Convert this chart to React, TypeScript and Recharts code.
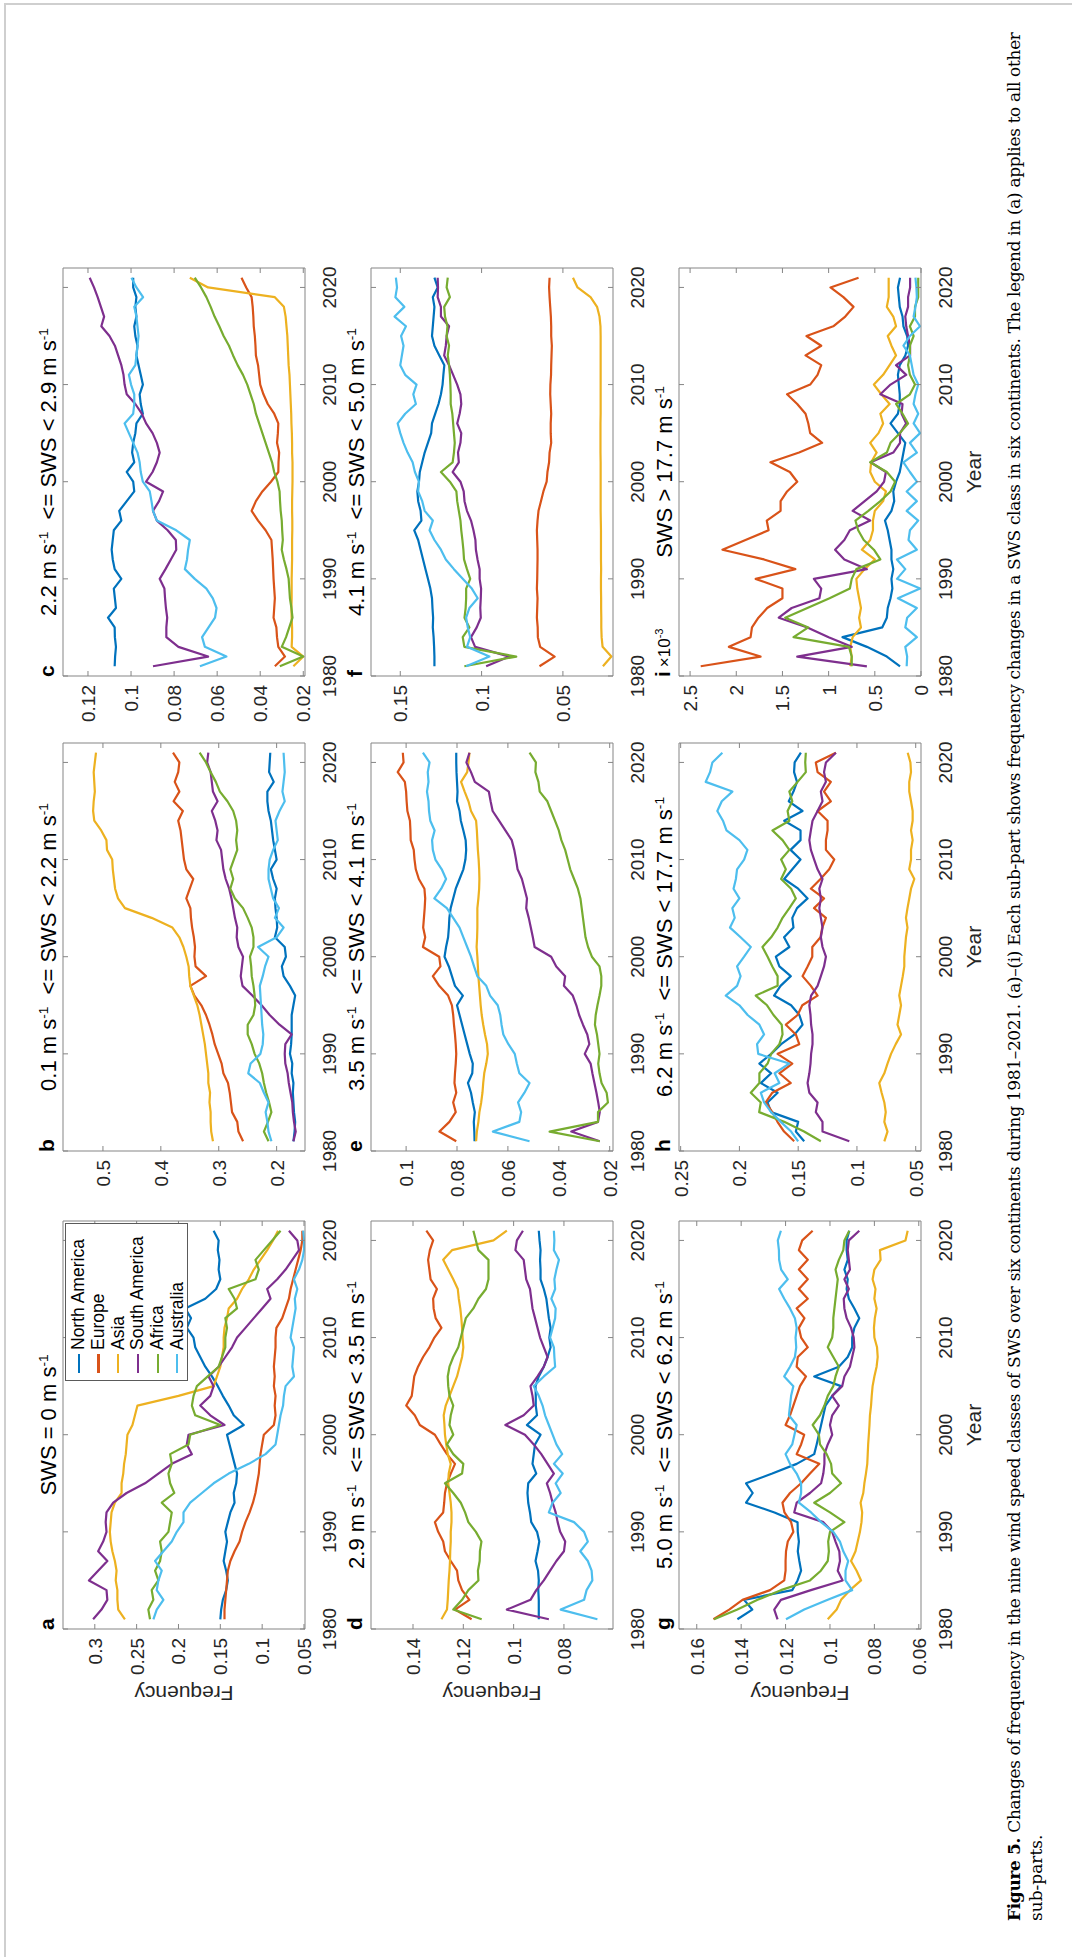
import React from "react";
import { Line, LineChart, XAxis, YAxis } from "recharts";

// Years on the x axis (one value per year, 1981–2021)
const YEARS = [
  1981, 1982, 1983, 1984, 1985, 1986, 1987, 1988, 1989, 1990,
  1991, 1992, 1993, 1994, 1995, 1996, 1997, 1998, 1999, 2000,
  2001, 2002, 2003, 2004, 2005, 2006, 2007, 2008, 2009, 2010,
  2011, 2012, 2013, 2014, 2015, 2016, 2017, 2018, 2019, 2020, 2021,
];
const YEAR_TICKS = [1980, 1990, 2000, 2010, 2020];
const YEAR_DOMAIN: [number, number] = [1980, 2022];

const CONTINENTS = ["North America", "Europe", "Asia", "South America", "Africa", "Australia"];
const KEYS = ["na", "eu", "as", "sa", "af", "au"];
const COLORS = ["#0072BD", "#D95319", "#EDB120", "#7E2F8E", "#77AC30", "#4DBEEE"];

// (a) SWS = 0
const A_NA = [0.150,0.149,0.147,0.143,0.141,0.143,0.146,0.144,0.142,0.144,0.141,0.138,0.133,0.134,0.131,0.130,0.133,0.136,0.139,0.142,0.122,0.134,0.140,0.147,0.153,0.160,0.168,0.174,0.180,0.182,0.190,0.185,0.192,0.168,0.155,0.150,0.152,0.151,0.153,0.152,0.158];
const A_EU = [0.145,0.145,0.144,0.143,0.142,0.141,0.138,0.133,0.127,0.124,0.120,0.115,0.111,0.108,0.106,0.104,0.103,0.102,0.100,0.098,0.086,0.084,0.085,0.084,0.086,0.085,0.086,0.085,0.084,0.084,0.083,0.076,0.072,0.068,0.066,0.063,0.060,0.057,0.054,0.052,0.052];
const A_AS = [0.264,0.272,0.273,0.273,0.275,0.274,0.276,0.279,0.281,0.282,0.281,0.280,0.276,0.268,0.268,0.266,0.265,0.263,0.262,0.261,0.255,0.252,0.249,0.200,0.158,0.154,0.150,0.148,0.146,0.146,0.145,0.142,0.140,0.130,0.124,0.116,0.110,0.102,0.094,0.087,0.081];
const A_SA = [0.302,0.292,0.285,0.286,0.307,0.296,0.285,0.296,0.290,0.286,0.287,0.286,0.278,0.262,0.240,0.224,0.208,0.184,0.190,0.188,0.145,0.162,0.174,0.162,0.158,0.164,0.152,0.144,0.136,0.130,0.120,0.110,0.100,0.090,0.094,0.082,0.072,0.064,0.056,0.058,0.068];
const A_AF = [0.234,0.236,0.230,0.232,0.224,0.228,0.222,0.220,0.222,0.212,0.210,0.208,0.220,0.205,0.210,0.212,0.208,0.210,0.188,0.186,0.150,0.180,0.184,0.182,0.178,0.165,0.152,0.148,0.144,0.144,0.142,0.144,0.130,0.133,0.140,0.108,0.104,0.108,0.098,0.088,0.078];
const A_AU = [0.230,0.226,0.218,0.226,0.224,0.220,0.228,0.218,0.208,0.202,0.194,0.194,0.186,0.172,0.158,0.140,0.116,0.096,0.084,0.082,0.080,0.078,0.075,0.074,0.072,0.062,0.064,0.063,0.062,0.066,0.064,0.062,0.060,0.061,0.058,0.062,0.056,0.052,0.050,0.050,0.051];

// (b) 0.1 <= SWS < 2.2
const B_NA = [0.171,0.169,0.168,0.170,0.171,0.172,0.171,0.174,0.173,0.177,0.175,0.174,0.174,0.174,0.171,0.168,0.177,0.188,0.191,0.184,0.186,0.203,0.199,0.200,0.202,0.203,0.200,0.206,0.210,0.200,0.203,0.206,0.208,0.210,0.214,0.216,0.216,0.205,0.213,0.212,0.211];
const B_EU = [0.258,0.266,0.268,0.277,0.279,0.281,0.284,0.292,0.295,0.301,0.307,0.311,0.316,0.322,0.330,0.342,0.349,0.322,0.340,0.342,0.341,0.343,0.346,0.348,0.349,0.356,0.350,0.344,0.356,0.360,0.362,0.364,0.366,0.370,0.362,0.378,0.368,0.376,0.370,0.368,0.379];
const B_AS = [0.310,0.313,0.314,0.314,0.316,0.315,0.318,0.318,0.320,0.322,0.324,0.327,0.330,0.333,0.337,0.343,0.349,0.351,0.352,0.356,0.361,0.368,0.380,0.416,0.462,0.474,0.479,0.481,0.483,0.484,0.493,0.494,0.503,0.515,0.517,0.516,0.514,0.515,0.516,0.514,0.512];
const B_SA = [0.171,0.167,0.170,0.172,0.173,0.176,0.179,0.181,0.185,0.186,0.185,0.174,0.195,0.212,0.226,0.242,0.259,0.262,0.260,0.258,0.266,0.269,0.268,0.272,0.275,0.278,0.282,0.288,0.292,0.294,0.296,0.304,0.302,0.306,0.312,0.302,0.310,0.312,0.314,0.320,0.318];
const B_AF = [0.214,0.222,0.215,0.209,0.213,0.218,0.222,0.225,0.230,0.238,0.243,0.250,0.250,0.240,0.237,0.238,0.240,0.243,0.244,0.246,0.240,0.240,0.243,0.250,0.258,0.272,0.280,0.275,0.280,0.274,0.268,0.270,0.268,0.270,0.275,0.285,0.298,0.305,0.314,0.322,0.333];
const B_AU = [0.209,0.214,0.216,0.219,0.214,0.222,0.229,0.249,0.245,0.228,0.224,0.223,0.225,0.226,0.227,0.228,0.229,0.224,0.220,0.214,0.232,0.200,0.188,0.203,0.196,0.206,0.210,0.214,0.214,0.212,0.206,0.198,0.200,0.202,0.195,0.186,0.190,0.188,0.186,0.187,0.188];

// (c) 2.2 <= SWS < 2.9
const C_NA = [0.1076,0.1074,0.1070,0.1075,0.1076,0.1107,0.1070,0.1075,0.1080,0.1045,0.1076,0.1085,0.1090,0.1085,0.1080,0.1045,0.1055,0.1020,0.0985,0.0990,0.1020,0.0985,0.0995,0.0990,0.0980,0.0975,0.0945,0.0955,0.0960,0.0945,0.0955,0.0965,0.0975,0.0970,0.0980,0.0985,0.0975,0.0980,0.0975,0.0990,0.0990];
const C_EU = [0.0332,0.0285,0.0316,0.0322,0.0325,0.0338,0.0335,0.0332,0.0335,0.0338,0.0340,0.0342,0.0345,0.0348,0.0375,0.0410,0.0440,0.0420,0.0390,0.0350,0.0316,0.0315,0.0312,0.0322,0.0318,0.0316,0.0335,0.0365,0.0385,0.0400,0.0405,0.0410,0.0420,0.0422,0.0425,0.0430,0.0432,0.0435,0.0440,0.0465,0.0487];
const C_AS = [0.0246,0.0200,0.0254,0.0252,0.0252,0.0254,0.0255,0.0254,0.0254,0.0254,0.0253,0.0252,0.0252,0.0252,0.0251,0.0251,0.0252,0.0252,0.0251,0.0250,0.0250,0.0250,0.0252,0.0252,0.0253,0.0255,0.0256,0.0258,0.0260,0.0262,0.0264,0.0268,0.0270,0.0272,0.0274,0.0278,0.0282,0.0290,0.0332,0.0642,0.0727];
const C_SA = [0.0898,0.0642,0.0780,0.0836,0.0836,0.0832,0.0838,0.0842,0.0845,0.0867,0.0840,0.0815,0.0790,0.0792,0.0830,0.0880,0.0898,0.0870,0.0851,0.0930,0.0900,0.0880,0.0867,0.0880,0.0900,0.0930,0.0950,0.0980,0.1020,0.1030,0.1035,0.1045,0.1060,0.1075,0.1100,0.1138,0.1125,0.1140,0.1155,0.1172,0.1192];
const C_AF = [0.0309,0.0200,0.0300,0.0280,0.0265,0.0250,0.0255,0.0262,0.0265,0.0268,0.0278,0.0290,0.0300,0.0295,0.0298,0.0300,0.0305,0.0308,0.0310,0.0320,0.0335,0.0345,0.0360,0.0375,0.0390,0.0405,0.0420,0.0430,0.0445,0.0460,0.0480,0.0505,0.0526,0.0545,0.0570,0.0590,0.0612,0.0630,0.0650,0.0675,0.0704];
const C_AU = [0.0680,0.0557,0.0657,0.0670,0.0640,0.0610,0.0603,0.0620,0.0650,0.0704,0.0750,0.0740,0.0735,0.0727,0.0790,0.0880,0.0898,0.0905,0.0913,0.0945,0.0955,0.0960,0.0970,0.0990,0.1010,0.1030,0.0990,0.0985,0.0985,0.1000,0.1010,0.0980,0.0975,0.0970,0.0965,0.0970,0.0975,0.0985,0.0944,0.0975,0.0998];

// (d) 2.9 <= SWS < 3.5
const D_NA = [0.0900,0.0900,0.0900,0.0902,0.0900,0.0903,0.0913,0.0905,0.0898,0.0907,0.0930,0.0935,0.0942,0.0945,0.0942,0.0910,0.0925,0.0920,0.0915,0.0893,0.0947,0.0907,0.0912,0.0912,0.0913,0.0900,0.0880,0.0865,0.0853,0.0858,0.0853,0.0860,0.0865,0.0870,0.0880,0.0893,0.0893,0.0895,0.0893,0.0897,0.0900];
const D_EU = [0.1167,0.1233,0.1176,0.1205,0.1220,0.1225,0.1250,0.1273,0.1280,0.1300,0.1313,0.1280,0.1276,0.1273,0.1265,0.1250,0.1233,0.1265,0.1290,0.1313,0.1373,0.1393,0.1427,0.1405,0.1400,0.1395,0.1380,0.1360,0.1335,0.1315,0.1287,0.1310,0.1318,0.1320,0.1305,0.1330,0.1335,0.1340,0.1333,0.1320,0.1347];
const D_AS = [0.1287,0.1265,0.1262,0.1260,0.1258,0.1255,0.1253,0.1252,0.1250,0.1250,0.1247,0.1247,0.1250,0.1255,0.1260,0.1258,0.1250,0.1262,0.1268,0.1273,0.1275,0.1278,0.1270,0.1255,0.1240,0.1225,0.1215,0.1205,0.1200,0.1203,0.1205,0.1208,0.1212,0.1218,0.1222,0.1240,0.1260,0.1280,0.1245,0.1080,0.1027];
const D_SA = [0.0860,0.1027,0.0933,0.0910,0.0880,0.0855,0.0830,0.0800,0.0795,0.0815,0.0825,0.0833,0.0845,0.0855,0.0868,0.0840,0.0865,0.0890,0.0920,0.0955,0.1033,0.0960,0.0920,0.0925,0.0933,0.0905,0.0880,0.0865,0.0880,0.0895,0.0905,0.0915,0.0925,0.0930,0.0935,0.0950,0.0955,0.0960,0.0993,0.0987,0.0963];
const D_AF = [0.1127,0.1240,0.1205,0.1180,0.1140,0.1142,0.1135,0.1134,0.1128,0.1150,0.1180,0.1193,0.1210,0.1240,0.1273,0.1205,0.1200,0.1240,0.1265,0.1240,0.1255,0.1250,0.1240,0.1255,0.1260,0.1262,0.1255,0.1240,0.1220,0.1210,0.1200,0.1190,0.1160,0.1140,0.1110,0.1100,0.1100,0.1100,0.1140,0.1150,0.1160];
const D_AU = [0.0667,0.0813,0.0720,0.0710,0.0687,0.0690,0.0705,0.0735,0.0705,0.0720,0.0760,0.0860,0.0845,0.0813,0.0833,0.0805,0.0840,0.0807,0.0830,0.0845,0.0860,0.0875,0.0885,0.0900,0.0920,0.0880,0.0835,0.0838,0.0840,0.0855,0.0845,0.0835,0.0833,0.0850,0.0835,0.0838,0.0830,0.0820,0.0840,0.0838,0.0840];

// (e) 3.5 <= SWS < 4.1
const E_NA = [0.0731,0.0732,0.0734,0.0730,0.0738,0.0745,0.0757,0.0740,0.0738,0.0750,0.0760,0.0770,0.0780,0.0790,0.0800,0.0777,0.0808,0.0820,0.0832,0.0849,0.0843,0.0835,0.0832,0.0830,0.0825,0.0815,0.0805,0.0790,0.0775,0.0767,0.0764,0.0766,0.0775,0.0785,0.0790,0.0800,0.0798,0.0800,0.0802,0.0803,0.0803];
const E_EU = [0.0803,0.0869,0.0830,0.0805,0.0815,0.0803,0.0810,0.0808,0.0805,0.0803,0.0805,0.0808,0.0812,0.0815,0.0820,0.0835,0.0870,0.0895,0.0865,0.0870,0.0934,0.0925,0.0933,0.0930,0.0927,0.0925,0.0928,0.0950,0.0962,0.0967,0.0970,0.0982,0.0983,0.0985,0.0995,0.0998,0.1000,0.1005,0.1033,0.1010,0.1013];
const E_AS = [0.0725,0.0722,0.0716,0.0712,0.0705,0.0700,0.0697,0.0693,0.0685,0.0679,0.0682,0.0690,0.0697,0.0703,0.0707,0.0710,0.0713,0.0716,0.0718,0.0720,0.0723,0.0721,0.0720,0.0720,0.0720,0.0716,0.0713,0.0712,0.0713,0.0715,0.0718,0.0720,0.0722,0.0725,0.0745,0.0755,0.0770,0.0784,0.0760,0.0755,0.0751];
const E_SA = [0.0239,0.0351,0.0246,0.0239,0.0245,0.0252,0.0260,0.0268,0.0275,0.0298,0.0280,0.0288,0.0305,0.0320,0.0331,0.0345,0.0380,0.0375,0.0410,0.0430,0.0495,0.0502,0.0510,0.0518,0.0528,0.0525,0.0535,0.0545,0.0562,0.0568,0.0575,0.0585,0.0610,0.0635,0.0660,0.0668,0.0675,0.0730,0.0745,0.0763,0.0751];
const E_AF = [0.0239,0.0436,0.0246,0.0246,0.0207,0.0212,0.0232,0.0240,0.0245,0.0240,0.0245,0.0250,0.0258,0.0255,0.0248,0.0240,0.0233,0.0233,0.0240,0.0270,0.0285,0.0295,0.0300,0.0305,0.0310,0.0315,0.0325,0.0340,0.0355,0.0365,0.0375,0.0390,0.0400,0.0415,0.0430,0.0445,0.0475,0.0480,0.0492,0.0490,0.0515];
const E_AU = [0.0515,0.0659,0.0555,0.0548,0.0560,0.0535,0.0515,0.0555,0.0565,0.0573,0.0598,0.0618,0.0625,0.0630,0.0640,0.0670,0.0685,0.0720,0.0733,0.0745,0.0760,0.0775,0.0790,0.0815,0.0840,0.0889,0.0862,0.0843,0.0860,0.0885,0.0895,0.0898,0.0888,0.0905,0.0910,0.0912,0.0918,0.0912,0.0915,0.0908,0.0934];

// (f) 4.1 <= SWS < 5.0
const F_NA = [0.1290,0.1290,0.1292,0.1295,0.1300,0.1298,0.1302,0.1305,0.1315,0.1330,0.1345,0.1360,0.1375,0.1390,0.1414,0.1370,0.1375,0.1390,0.1395,0.1385,0.1380,0.1365,0.1350,0.1330,0.1310,0.1305,0.1285,0.1265,0.1250,0.1240,0.1235,0.1229,0.1260,0.1290,0.1305,0.1300,0.1295,0.1290,0.1300,0.1270,0.1290];
const F_EU = [0.0644,0.0551,0.0640,0.0654,0.0655,0.0660,0.0658,0.0656,0.0660,0.0658,0.0657,0.0656,0.0656,0.0658,0.0660,0.0656,0.0650,0.0635,0.0620,0.0600,0.0595,0.0585,0.0582,0.0572,0.0575,0.0575,0.0572,0.0575,0.0578,0.0577,0.0573,0.0572,0.0570,0.0568,0.0572,0.0572,0.0574,0.0578,0.0582,0.0585,0.0582];
const F_AS = [0.0254,0.0202,0.0256,0.0262,0.0264,0.0264,0.0265,0.0265,0.0266,0.0266,0.0265,0.0266,0.0266,0.0266,0.0266,0.0267,0.0268,0.0268,0.0268,0.0268,0.0268,0.0268,0.0269,0.0269,0.0269,0.0269,0.0268,0.0268,0.0268,0.0268,0.0268,0.0268,0.0268,0.0268,0.0268,0.0269,0.0275,0.0290,0.0330,0.0410,0.0438];
const F_SA = [0.0972,0.0829,0.1040,0.1065,0.1030,0.1005,0.1008,0.1005,0.1003,0.1012,0.1012,0.1025,0.1035,0.1038,0.1050,0.1065,0.1090,0.1105,0.1110,0.1130,0.1178,0.1140,0.1145,0.1130,0.1125,0.1150,0.1135,0.1125,0.1130,0.1150,0.1175,0.1200,0.1230,0.1220,0.1215,0.1200,0.1250,0.1250,0.1270,0.1268,0.1270];
const F_AF = [0.1106,0.0787,0.1106,0.1116,0.1075,0.1105,0.1098,0.1095,0.1095,0.1070,0.1090,0.1108,0.1112,0.1118,0.1125,0.1130,0.1140,0.1150,0.1155,0.1195,0.1250,0.1178,0.1170,0.1165,0.1170,0.1175,0.1180,0.1190,0.1190,0.1192,0.1195,0.1200,0.1208,0.1200,0.1215,0.1210,0.1225,0.1230,0.1195,0.1215,0.1208];
const F_AU = [0.1095,0.0952,0.1090,0.1070,0.1085,0.1095,0.1075,0.1024,0.1060,0.1116,0.1170,0.1220,0.1250,0.1290,0.1320,0.1300,0.1350,0.1365,0.1390,0.1385,0.1410,0.1424,0.1455,0.1480,0.1500,0.1516,0.1470,0.1404,0.1420,0.1400,0.1470,0.1500,0.1490,0.1480,0.1495,0.1465,0.1535,0.1475,0.1530,0.1520,0.1527];

// (g) 5.0 <= SWS < 6.2
const G_NA = [0.1417,0.1350,0.1387,0.1170,0.1146,0.1130,0.1138,0.1145,0.1140,0.1145,0.1146,0.1250,0.1378,0.1348,0.1378,0.1260,0.1150,0.1071,0.1060,0.1050,0.1040,0.1030,0.1020,0.0990,0.0950,0.1071,0.0960,0.0920,0.0900,0.0900,0.0890,0.0868,0.0890,0.0915,0.0925,0.0920,0.0935,0.0920,0.0925,0.0925,0.0913];
const G_EU = [0.1525,0.1454,0.1394,0.1270,0.1206,0.1200,0.1200,0.1198,0.1190,0.1165,0.1175,0.1205,0.1214,0.1180,0.1130,0.1090,0.1048,0.1150,0.1130,0.1116,0.1200,0.1180,0.1165,0.1150,0.1135,0.1108,0.1150,0.1145,0.1100,0.1130,0.1140,0.1115,0.1150,0.1100,0.1140,0.1100,0.1140,0.1100,0.1140,0.1125,0.1078];
const G_AS = [0.1010,0.0970,0.0950,0.0910,0.0860,0.0880,0.0905,0.0885,0.0875,0.0865,0.0858,0.0855,0.0862,0.0850,0.0845,0.0838,0.0832,0.0830,0.0828,0.0825,0.0822,0.0820,0.0815,0.0812,0.0808,0.0800,0.0790,0.0785,0.0788,0.0800,0.0802,0.0798,0.0790,0.0800,0.0795,0.0808,0.0800,0.0772,0.0775,0.0660,0.0650];
const G_SA = [0.1236,0.1251,0.1221,0.1086,0.0943,0.0965,0.0955,0.0958,0.0975,0.0990,0.1030,0.1161,0.1150,0.1090,0.1040,0.1030,0.1025,0.1025,0.1010,0.0990,0.1000,0.0990,0.0960,0.0990,0.0945,0.0935,0.0910,0.0900,0.0890,0.0893,0.0905,0.0925,0.0935,0.0938,0.0915,0.0935,0.0910,0.0915,0.0920,0.0915,0.0868];
const G_AF = [0.1522,0.1417,0.1326,0.1221,0.1090,0.1041,0.1010,0.1005,0.1008,0.1000,0.0935,0.1000,0.1071,0.1000,0.0950,0.0990,0.0995,0.1015,0.1045,0.1050,0.1078,0.1045,0.1025,0.1010,0.0985,0.0975,0.0960,0.0985,0.1010,0.0990,0.0985,0.0985,0.0980,0.0975,0.0970,0.0965,0.0975,0.0960,0.0940,0.0935,0.0913];
const G_AU = [0.1198,0.1116,0.1010,0.0900,0.0930,0.0930,0.0918,0.0940,0.0955,0.0985,0.1040,0.1085,0.1140,0.1130,0.1130,0.1150,0.1180,0.1200,0.1170,0.1160,0.1150,0.1185,0.1180,0.1175,0.1165,0.1206,0.1180,0.1158,0.1152,0.1155,0.1150,0.1158,0.1180,0.1206,0.1229,0.1190,0.1220,0.1229,0.1230,0.1235,0.1221];

// (h) 6.2 <= SWS < 17.7
const H_NA = [0.1449,0.1520,0.1500,0.1730,0.1761,0.1675,0.1818,0.1730,0.1830,0.1730,0.1645,0.1530,0.1463,0.1490,0.1560,0.1705,0.1650,0.1563,0.1660,0.1690,0.1575,0.1620,0.1540,0.1550,0.1510,0.1420,0.1500,0.1619,0.1550,0.1480,0.1565,0.1480,0.1480,0.1619,0.1463,0.1580,0.1540,0.1510,0.1535,0.1530,0.1477];
const H_EU = [0.1534,0.1620,0.1676,0.1720,0.1776,0.1720,0.1563,0.1660,0.1550,0.1675,0.1491,0.1520,0.1605,0.1505,0.1465,0.1335,0.1392,0.1463,0.1420,0.1380,0.1380,0.1310,0.1295,0.1264,0.1365,0.1280,0.1392,0.1310,0.1236,0.1193,0.1264,0.1264,0.1250,0.1250,0.1335,0.1222,0.1280,0.1222,0.1335,0.1350,0.1179];
const H_AS = [0.0767,0.0740,0.0767,0.0755,0.0767,0.0790,0.0810,0.0767,0.0740,0.0710,0.0670,0.0625,0.0655,0.0640,0.0625,0.0640,0.0625,0.0610,0.0597,0.0597,0.0590,0.0583,0.0570,0.0583,0.0570,0.0555,0.0540,0.0512,0.0555,0.0540,0.0540,0.0526,0.0540,0.0526,0.0526,0.0540,0.0555,0.0555,0.0540,0.0545,0.0568];
const H_SA = [0.1065,0.1293,0.1293,0.1350,0.1335,0.1405,0.1420,0.1405,0.1395,0.1390,0.1378,0.1378,0.1390,0.1395,0.1405,0.1390,0.1335,0.1307,0.1280,0.1264,0.1293,0.1307,0.1293,0.1307,0.1320,0.1307,0.1320,0.1293,0.1335,0.1364,0.1392,0.1405,0.1392,0.1378,0.1335,0.1293,0.1307,0.1264,0.1280,0.1264,0.1179];
const H_AF = [0.1307,0.1450,0.1619,0.1832,0.1818,0.1903,0.1830,0.1830,0.1760,0.1730,0.1660,0.1633,0.1640,0.1710,0.1765,0.1861,0.1675,0.1675,0.1720,0.1760,0.1804,0.1730,0.1675,0.1633,0.1575,0.1520,0.1560,0.1645,0.1605,0.1645,0.1575,0.1633,0.1719,0.1575,0.1590,0.1550,0.1575,0.1505,0.1435,0.1440,0.1435];
const H_AU = [0.1500,0.1560,0.1648,0.1730,0.1790,0.1818,0.1660,0.1700,0.1577,0.1840,0.1850,0.1790,0.1830,0.1930,0.2000,0.2116,0.2020,0.1990,0.2020,0.1960,0.1903,0.1990,0.2080,0.2040,0.2060,0.2000,0.2050,0.2030,0.2020,0.1960,0.1932,0.2000,0.2110,0.2140,0.2188,0.2150,0.2060,0.2287,0.2250,0.2230,0.2145];

// (i) SWS > 17.7, in units of 1e-3
const I_NA = [0.227,0.370,0.586,0.850,0.420,0.370,0.360,0.330,0.310,0.320,0.300,0.320,0.320,0.340,0.360,0.390,0.320,0.290,0.300,0.270,0.230,0.210,0.190,0.170,0.250,0.330,0.250,0.230,0.230,0.240,0.250,0.230,0.170,0.140,0.150,0.190,0.200,0.230,0.240,0.250,0.227];
const I_EU = [2.385,1.737,2.080,1.845,1.830,1.760,1.665,1.500,1.500,1.790,1.360,1.700,2.150,1.900,1.650,1.670,1.520,1.520,1.450,1.340,1.420,1.630,1.320,1.070,1.200,1.220,1.250,1.340,1.450,1.200,1.120,1.080,1.250,1.080,1.240,0.950,0.820,0.730,0.840,0.980,0.676];
const I_AS = [0.766,0.750,0.766,0.740,0.650,0.670,0.650,0.670,0.690,0.700,0.610,0.500,0.640,0.550,0.520,0.520,0.500,0.410,0.380,0.500,0.550,0.540,0.480,0.550,0.460,0.410,0.440,0.340,0.430,0.510,0.410,0.340,0.270,0.320,0.360,0.270,0.300,0.370,0.350,0.350,0.350];
const I_SA = [0.586,1.340,0.750,1.000,1.230,1.540,1.400,1.100,1.080,1.160,0.586,0.830,0.930,0.830,0.770,0.550,0.740,0.610,0.480,0.400,0.380,0.545,0.300,0.227,0.227,0.160,0.210,0.200,0.440,0.330,0.160,0.270,0.118,0.118,0.140,0.160,0.170,0.140,0.140,0.118,0.118];
const I_AF = [0.750,0.750,0.780,1.380,1.220,1.470,1.230,0.990,0.770,0.750,0.700,0.440,0.510,0.620,0.680,0.710,0.570,0.440,0.330,0.280,0.370,0.550,0.370,0.330,0.230,0.140,0.200,0.270,0.120,0.065,0.120,0.140,0.120,0.120,0.080,0.120,0.065,0.065,0.030,0.030,0.030];
const I_AU = [0.155,0.150,0.170,0.045,0.170,0.150,0.045,0.250,0.010,0.260,0.170,0.260,0.045,0.135,0.120,0.030,0.155,0.045,0.155,0.045,0.120,0.190,0.045,0.120,0.010,0.080,0.030,0.080,0.060,0.030,0.080,0.100,0.120,0.190,0.120,0.010,0.080,0.060,0.045,0.050,0.060];

type PanelSpec = {
  id: string;
  title: string;
  series: number[][];
  domain: [number, number];
  ticks: number[];
};

const PANELS: PanelSpec[] = [
  { id: "a", title: "SWS = 0 m s^-1", series: [A_NA, A_EU, A_AS, A_SA, A_AF, A_AU], domain: [0.0488, 0.338], ticks: [0.05, 0.1, 0.15, 0.2, 0.25, 0.3] },
  { id: "b", title: "0.1 m s^-1  <= SWS < 2.2 m s^-1", series: [B_NA, B_EU, B_AS, B_SA, B_AF, B_AU], domain: [0.151, 0.569], ticks: [0.2, 0.3, 0.4, 0.5] },
  { id: "c", title: "2.2 m s^-1  <= SWS < 2.9 m s^-1", series: [C_NA, C_EU, C_AS, C_SA, C_AF, C_AU], domain: [0.0192, 0.1316], ticks: [0.02, 0.04, 0.06, 0.08, 0.1, 0.12] },
  { id: "d", title: "2.9 m s^-1  <= SWS < 3.5 m s^-1", series: [D_NA, D_EU, D_AS, D_SA, D_AF, D_AU], domain: [0.0605, 0.1567], ticks: [0.08, 0.1, 0.12, 0.14] },
  { id: "e", title: "3.5 m s^-1  <= SWS < 4.1 m s^-1", series: [E_NA, E_EU, E_AS, E_SA, E_AF, E_AU], domain: [0.0187, 0.1138], ticks: [0.02, 0.04, 0.06, 0.08, 0.1] },
  { id: "f", title: "4.1 m s^-1  <= SWS < 5.0 m s^-1", series: [F_NA, F_EU, F_AS, F_SA, F_AF, F_AU], domain: [0.0192, 0.168], ticks: [0.05, 0.1, 0.15] },
  { id: "g", title: "5.0 m s^-1  <= SWS < 6.2 m s^-1", series: [G_NA, G_EU, G_AS, G_SA, G_AF, G_AU], domain: [0.059, 0.168], ticks: [0.06, 0.08, 0.1, 0.12, 0.14, 0.16] },
  { id: "h", title: "6.2 m s^-1  <= SWS < 17.7 m s^-1", series: [H_NA, H_EU, H_AS, H_SA, H_AF, H_AU], domain: [0.0455, 0.2514], ticks: [0.05, 0.1, 0.15, 0.2, 0.25] },
  { id: "i", title: "SWS > 17.7 m s^-1", series: [I_NA, I_EU, I_AS, I_SA, I_AF, I_AU], domain: [0, 2.62], ticks: [0, 0.5, 1, 1.5, 2, 2.5] },
];

// layout of the landscape figure before it is turned onto the page
const PAGE_W = 1072;
const PAGE_H = 1957;
const COL_X = [328, 806, 1281];
const ROW_Y = [63, 371, 679];
const PLOT_W = 408;
const PLOT_H = 242;
const AX_L = 70;
const AX_R = 2;
const AX_T = 2;
const AX_B = 42;
const PAD_T = 14; // room above the plot so the top tick label is not cut

const SANS = "'Liberation Sans', Arial, Helvetica, sans-serif";
const SERIF = "'DejaVu Serif', 'Liberation Serif', serif";
const AXIS_COLOR = "#858585";
const TEXT_COLOR = "#262626";
const TICK_LEN = 5;

function fmt(v: number) {
  return String(Number(v.toFixed(4)));
}

const BottomTick = (props: any) => {
  const { x, y, payload } = props;
  return (
    <g>
      <line x1={x} y1={y} x2={x} y2={y - TICK_LEN} stroke={AXIS_COLOR} />
      <text x={x} y={y + 31} textAnchor="middle" fontSize={19} fill={TEXT_COLOR} fontFamily={SANS}>
        {payload.value}
      </text>
    </g>
  );
};

const TopTick = (props: any) => {
  const { x, y } = props;
  return <line x1={x} y1={y} x2={x} y2={y + TICK_LEN} stroke={AXIS_COLOR} />;
};

const LeftTick = (props: any) => {
  const { x, y, payload } = props;
  return (
    <g>
      <line x1={x} y1={y} x2={x + TICK_LEN} y2={y} stroke={AXIS_COLOR} />
      <text x={x - 9} y={y + 7} textAnchor="end" fontSize={19} fill={TEXT_COLOR} fontFamily={SANS}>
        {fmt(payload.value)}
      </text>
    </g>
  );
};

const RightTick = (props: any) => {
  const { x, y } = props;
  return <line x1={x} y1={y} x2={x - TICK_LEN} y2={y} stroke={AXIS_COLOR} />;
};

function Sup({ text }: { text: string }) {
  const parts = text.split("^-1");
  return (
    <>
      {parts.map((p, i) => (
        <React.Fragment key={i}>
          {p}
          {i < parts.length - 1 && (
            <sup style={{ fontSize: "0.62em", verticalAlign: "0.6em", lineHeight: 0 }}>-1</sup>
          )}
        </React.Fragment>
      ))}
    </>
  );
}

function Panel({ spec, index }: { spec: PanelSpec; index: number }) {
  const row = Math.floor(index / 3);
  const col = index % 3;
  const px = COL_X[col];
  const py = ROW_Y[row];
  const data = YEARS.map((year, i) => {
    const d: Record<string, number> = { year };
    KEYS.forEach((k, s) => {
      d[k] = spec.series[s][i];
    });
    return d;
  });

  return (
    <>
      <div style={{ position: "absolute", left: px - AX_L, top: py - AX_T - PAD_T }}>
        <LineChart
          width={AX_L + PLOT_W + AX_R}
          height={PAD_T + AX_T + PLOT_H + AX_B}
          data={data}
          margin={{ top: PAD_T, right: 0, bottom: 0, left: 0 }}
        >
          <XAxis
            dataKey="year"
            type="number"
            domain={YEAR_DOMAIN}
            ticks={YEAR_TICKS}
            interval={0}
            allowDataOverflow
            height={AX_B}
            axisLine={{ stroke: AXIS_COLOR }}
            tickLine={false}
            tickSize={0}
            tickMargin={0}
            tick={BottomTick}
          />
          <XAxis
            xAxisId="top"
            orientation="top"
            dataKey="year"
            type="number"
            domain={YEAR_DOMAIN}
            ticks={YEAR_TICKS}
            interval={0}
            allowDataOverflow
            height={AX_T}
            axisLine={{ stroke: AXIS_COLOR }}
            tickLine={false}
            tickSize={0}
            tickMargin={0}
            tick={TopTick}
          />
          <YAxis
            type="number"
            domain={spec.domain}
            ticks={spec.ticks}
            interval={0}
            allowDataOverflow
            width={AX_L}
            axisLine={{ stroke: AXIS_COLOR }}
            tickLine={false}
            tickSize={0}
            tickMargin={0}
            tick={LeftTick}
          />
          <YAxis
            yAxisId="right"
            orientation="right"
            type="number"
            domain={spec.domain}
            ticks={spec.ticks}
            interval={0}
            allowDataOverflow
            width={AX_R}
            axisLine={{ stroke: AXIS_COLOR }}
            tickLine={false}
            tickSize={0}
            tickMargin={0}
            tick={RightTick}
          />
          {KEYS.map((k, s) => (
            <Line
              key={k}
              dataKey={k}
              name={CONTINENTS[s]}
              stroke={COLORS[s]}
              strokeWidth={2.2}
              dot={false}
              isAnimationActive={false}
              strokeLinejoin="round"
            />
          ))}
        </LineChart>
      </div>

      {/* panel letter */}
      <div
        style={{
          position: "absolute",
          left: px - 1,
          top: py - 29,
          fontFamily: SANS,
          fontWeight: "bold",
          fontSize: 21,
          color: "#000",
          lineHeight: "26px",
        }}
      >
        {spec.id}
        {spec.id === "i" && (
          <span style={{ fontWeight: "normal", fontSize: 17, marginLeft: 4 }}>
            ×10<sup style={{ fontSize: "0.65em", verticalAlign: "0.6em", lineHeight: 0 }}>-3</sup>
          </span>
        )}
      </div>

      {/* title */}
      <div
        style={{
          position: "absolute",
          left: px,
          top: py - 28,
          width: PLOT_W,
          textAlign: "center",
          fontFamily: SANS,
          fontSize: 22,
          lineHeight: "28px",
          color: "#000",
          whiteSpace: "pre",
        }}
      >
        <Sup text={spec.title} />
      </div>

      {col === 0 && (
        <div
          style={{
            position: "absolute",
            left: 264,
            top: py + PLOT_H / 2,
            transform: "translate(-50%, -50%) rotate(-90deg)",
            fontFamily: SANS,
            fontSize: 21,
            color: TEXT_COLOR,
            whiteSpace: "nowrap",
          }}
        >
          Frequency
        </div>
      )}

      {row === 2 && (
        <div
          style={{
            position: "absolute",
            left: px + PLOT_W / 2,
            top: 974,
            transform: "translate(-50%, -50%)",
            fontFamily: SANS,
            fontSize: 21,
            color: TEXT_COLOR,
            whiteSpace: "nowrap",
          }}
        >
          Year
        </div>
      )}

      {spec.id === "a" && (
        <div
          style={{
            position: "absolute",
            left: px + PLOT_W - 160,
            top: py + 2,
            width: 158,
            height: 123,
            border: "1px solid #5a5a5a",
            background: "#fff",
            paddingTop: 3,
            boxSizing: "border-box",
          }}
        >
          {CONTINENTS.map((name, s) => (
            <div key={name} style={{ display: "flex", alignItems: "center", height: 19.7 }}>
              <span style={{ display: "inline-block", width: 19, height: 2.2, background: COLORS[s], marginLeft: 7, marginRight: 4 }} />
              <span style={{ fontFamily: SANS, fontSize: 17.5, color: "#000", whiteSpace: "nowrap" }}>{name}</span>
            </div>
          ))}
        </div>
      )}
    </>
  );
}

export default function App() {
  return (
    <div
      style={{
        position: "absolute",
        left: 0,
        top: 0,
        width: PAGE_W,
        height: PAGE_H,
        background: "#fff",
        overflow: "hidden",
      }}
    >
      {/* page frame */}
      <div style={{ position: "absolute", left: 4, top: 3, width: 2, height: PAGE_H, background: "#cfcfcf" }} />
      <div style={{ position: "absolute", left: 4, top: 3, width: PAGE_W, height: 2, background: "#cfcfcf" }} />

      {/* landscape figure turned a quarter turn onto the page */}
      <div
        style={{
          position: "absolute",
          left: 0,
          top: 0,
          width: PAGE_H,
          height: PAGE_W,
          transformOrigin: "0 0",
          transform: `translateY(${PAGE_H}px) rotate(-90deg)`,
        }}
      >
        {PANELS.map((spec, i) => (
          <Panel key={spec.id} spec={spec} index={i} />
        ))}

        <svg width={PAGE_H} height={PAGE_W} style={{ position: "absolute", left: 0, top: 0, pointerEvents: "none" }}>
          <text x={36} y={1020} fontFamily={SERIF} fontSize={17} fill="#000" textLength={1889} lengthAdjust="spacing">
            <tspan fontWeight="bold">Figure 5.</tspan>
            {" Changes of frequency in the nine wind speed classes of SWS over six continents during 1981–2021. (a)–(i) Each sub-part shows frequency changes in a SWS class in six continents. The legend in (a) applies to all other"}
          </text>
          <text x={36} y={1042} fontFamily={SERIF} fontSize={17} fill="#000">
            sub-parts.
          </text>
        </svg>
      </div>
    </div>
  );
}
